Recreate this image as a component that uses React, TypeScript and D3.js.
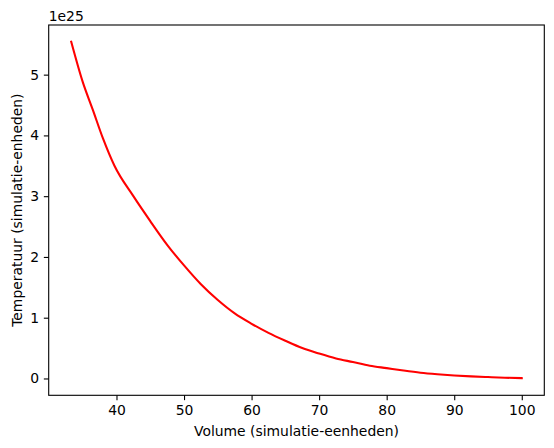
import React, { useEffect, useRef } from "react";
import * as d3 from "d3";

// Volume (simulation units) and temperature
const volumes = [
  33.3, 35, 36.5, 38, 39.7, 42.5, 45, 47.5, 50, 52.5, 55, 57.5, 60, 62.5, 65,
  67.5, 70, 72.5, 75, 77.5, 80, 82.5, 85, 87.5, 90, 92.5, 95, 97.5, 100,
];
const temperatures = [
  5.54e25, 4.88e25, 4.42e25, 3.95e25, 3.5e25, 3.0e25, 2.59e25, 2.2e25, 1.86e25,
  1.55e25, 1.29e25, 1.07e25, 0.9e25, 0.75e25, 0.62e25, 0.5e25, 0.41e25,
  0.33e25, 0.27e25, 0.21e25, 0.17e25, 0.13e25, 0.095e25, 0.07e25, 0.05e25,
  0.035e25, 0.023e25, 0.012e25, 0.005e25,
];
const xTicks = [40, 50, 60, 70, 80, 90, 100];
const yTicks = [0, 1e25, 2e25, 3e25, 4e25, 5e25];
const offsetLabel = "1e25";
const xLabel = "Volume (simulatie-eenheden)";
const yLabel = "Temperatuur (simulatie-enheden)";

const width = 554;
const height = 448;
const font = "DejaVu Sans, sans-serif";

const App: React.FC = () => {
  const svgRef = useRef<SVGSVGElement | null>(null);

  useEffect(() => {
    const margin = { top: 25, right: 9.7, bottom: 52.7, left: 48.7 };
    const innerWidth = width - margin.left - margin.right;
    const innerHeight = height - margin.top - margin.bottom;

    const svg = d3.select(svgRef.current);
    svg.selectAll("*").remove();

    const chart = svg
      .append("g")
      .attr("transform", `translate(${margin.left}, ${margin.top})`);

    const points = volumes.map((v, i) => ({ v, t: temperatures[i] }));

    // matplotlib-style 5% margins around the data
    const [xMin, xMax] = d3.extent(volumes) as [number, number];
    const [yMin, yMax] = d3.extent(temperatures) as [number, number];
    const xPad = (xMax - xMin) * 0.05;
    const yPad = (yMax - 0) * 0.05;

    const xScale = d3
      .scaleLinear()
      .domain([xMin - xPad, xMax + xPad])
      .range([0, innerWidth]);

    const yScale = d3
      .scaleLinear()
      .domain([Math.min(0, yMin) - yPad, yMax + yPad])
      .range([innerHeight, 0]);

    const tickLen = 4.86;

    // X axis
    const xAxis = chart
      .append("g")
      .attr("transform", `translate(0, ${innerHeight})`)
      .call(
        d3
          .axisBottom(xScale)
          .tickValues(xTicks)
          .tickSize(tickLen)
          .tickPadding(4.86)
          .tickFormat((d) => String(d))
      );
    xAxis.select(".domain").remove();
    xAxis.selectAll("line").attr("stroke", "black").attr("stroke-width", 1.1);
    xAxis
      .selectAll("text")
      .attr("fill", "black")
      .style("font-family", font)
      .style("font-size", "13.9px");

    // Y axis
    const yAxis = chart.append("g").call(
      d3
        .axisLeft(yScale)
        .tickValues(yTicks)
        .tickSize(tickLen)
        .tickPadding(4.86)
        .tickFormat((d) => String(Math.round((d as number) / 1e25)))
    );
    yAxis.select(".domain").remove();
    yAxis.selectAll("line").attr("stroke", "black").attr("stroke-width", 1.1);
    yAxis
      .selectAll("text")
      .attr("fill", "black")
      .style("font-family", font)
      .style("font-size", "13.9px");

    // Line
    const lineGenerator = d3
      .line<{ v: number; t: number }>()
      .x((d) => xScale(d.v))
      .y((d) => yScale(d.t))
      .curve(d3.curveMonotoneX);

    chart
      .append("path")
      .datum(points)
      .attr("d", lineGenerator)
      .attr("fill", "none")
      .attr("stroke", "#ff0000")
      .attr("stroke-width", 2.08)
      .attr("stroke-linejoin", "round")
      .attr("stroke-linecap", "square");

    // Frame
    chart
      .append("rect")
      .attr("width", innerWidth)
      .attr("height", innerHeight)
      .attr("fill", "none")
      .attr("stroke", "black")
      .attr("stroke-width", 1.1);

    // Offset text
    chart
      .append("text")
      .attr("x", 0)
      .attr("y", -4.3)
      .text(offsetLabel)
      .style("font-family", font)
      .style("font-size", "13.9px");

    // Axis labels
    svg
      .append("text")
      .attr("x", margin.left + innerWidth / 2)
      .attr("y", 435.5)
      .attr("text-anchor", "middle")
      .text(xLabel)
      .style("font-family", font)
      .style("font-size", "13.9px");

    svg
      .append("text")
      .attr(
        "transform",
        `translate(21.5, ${margin.top + innerHeight / 2}) rotate(-90)`
      )
      .attr("text-anchor", "middle")
      .text(yLabel)
      .style("font-family", font)
      .style("font-size", "13.9px");
  }, []);

  return (
    <svg
      ref={svgRef}
      width={width}
      height={height}
      style={{ position: "absolute", left: 0, top: 0, background: "white" }}
    />
  );
};

export default App;
